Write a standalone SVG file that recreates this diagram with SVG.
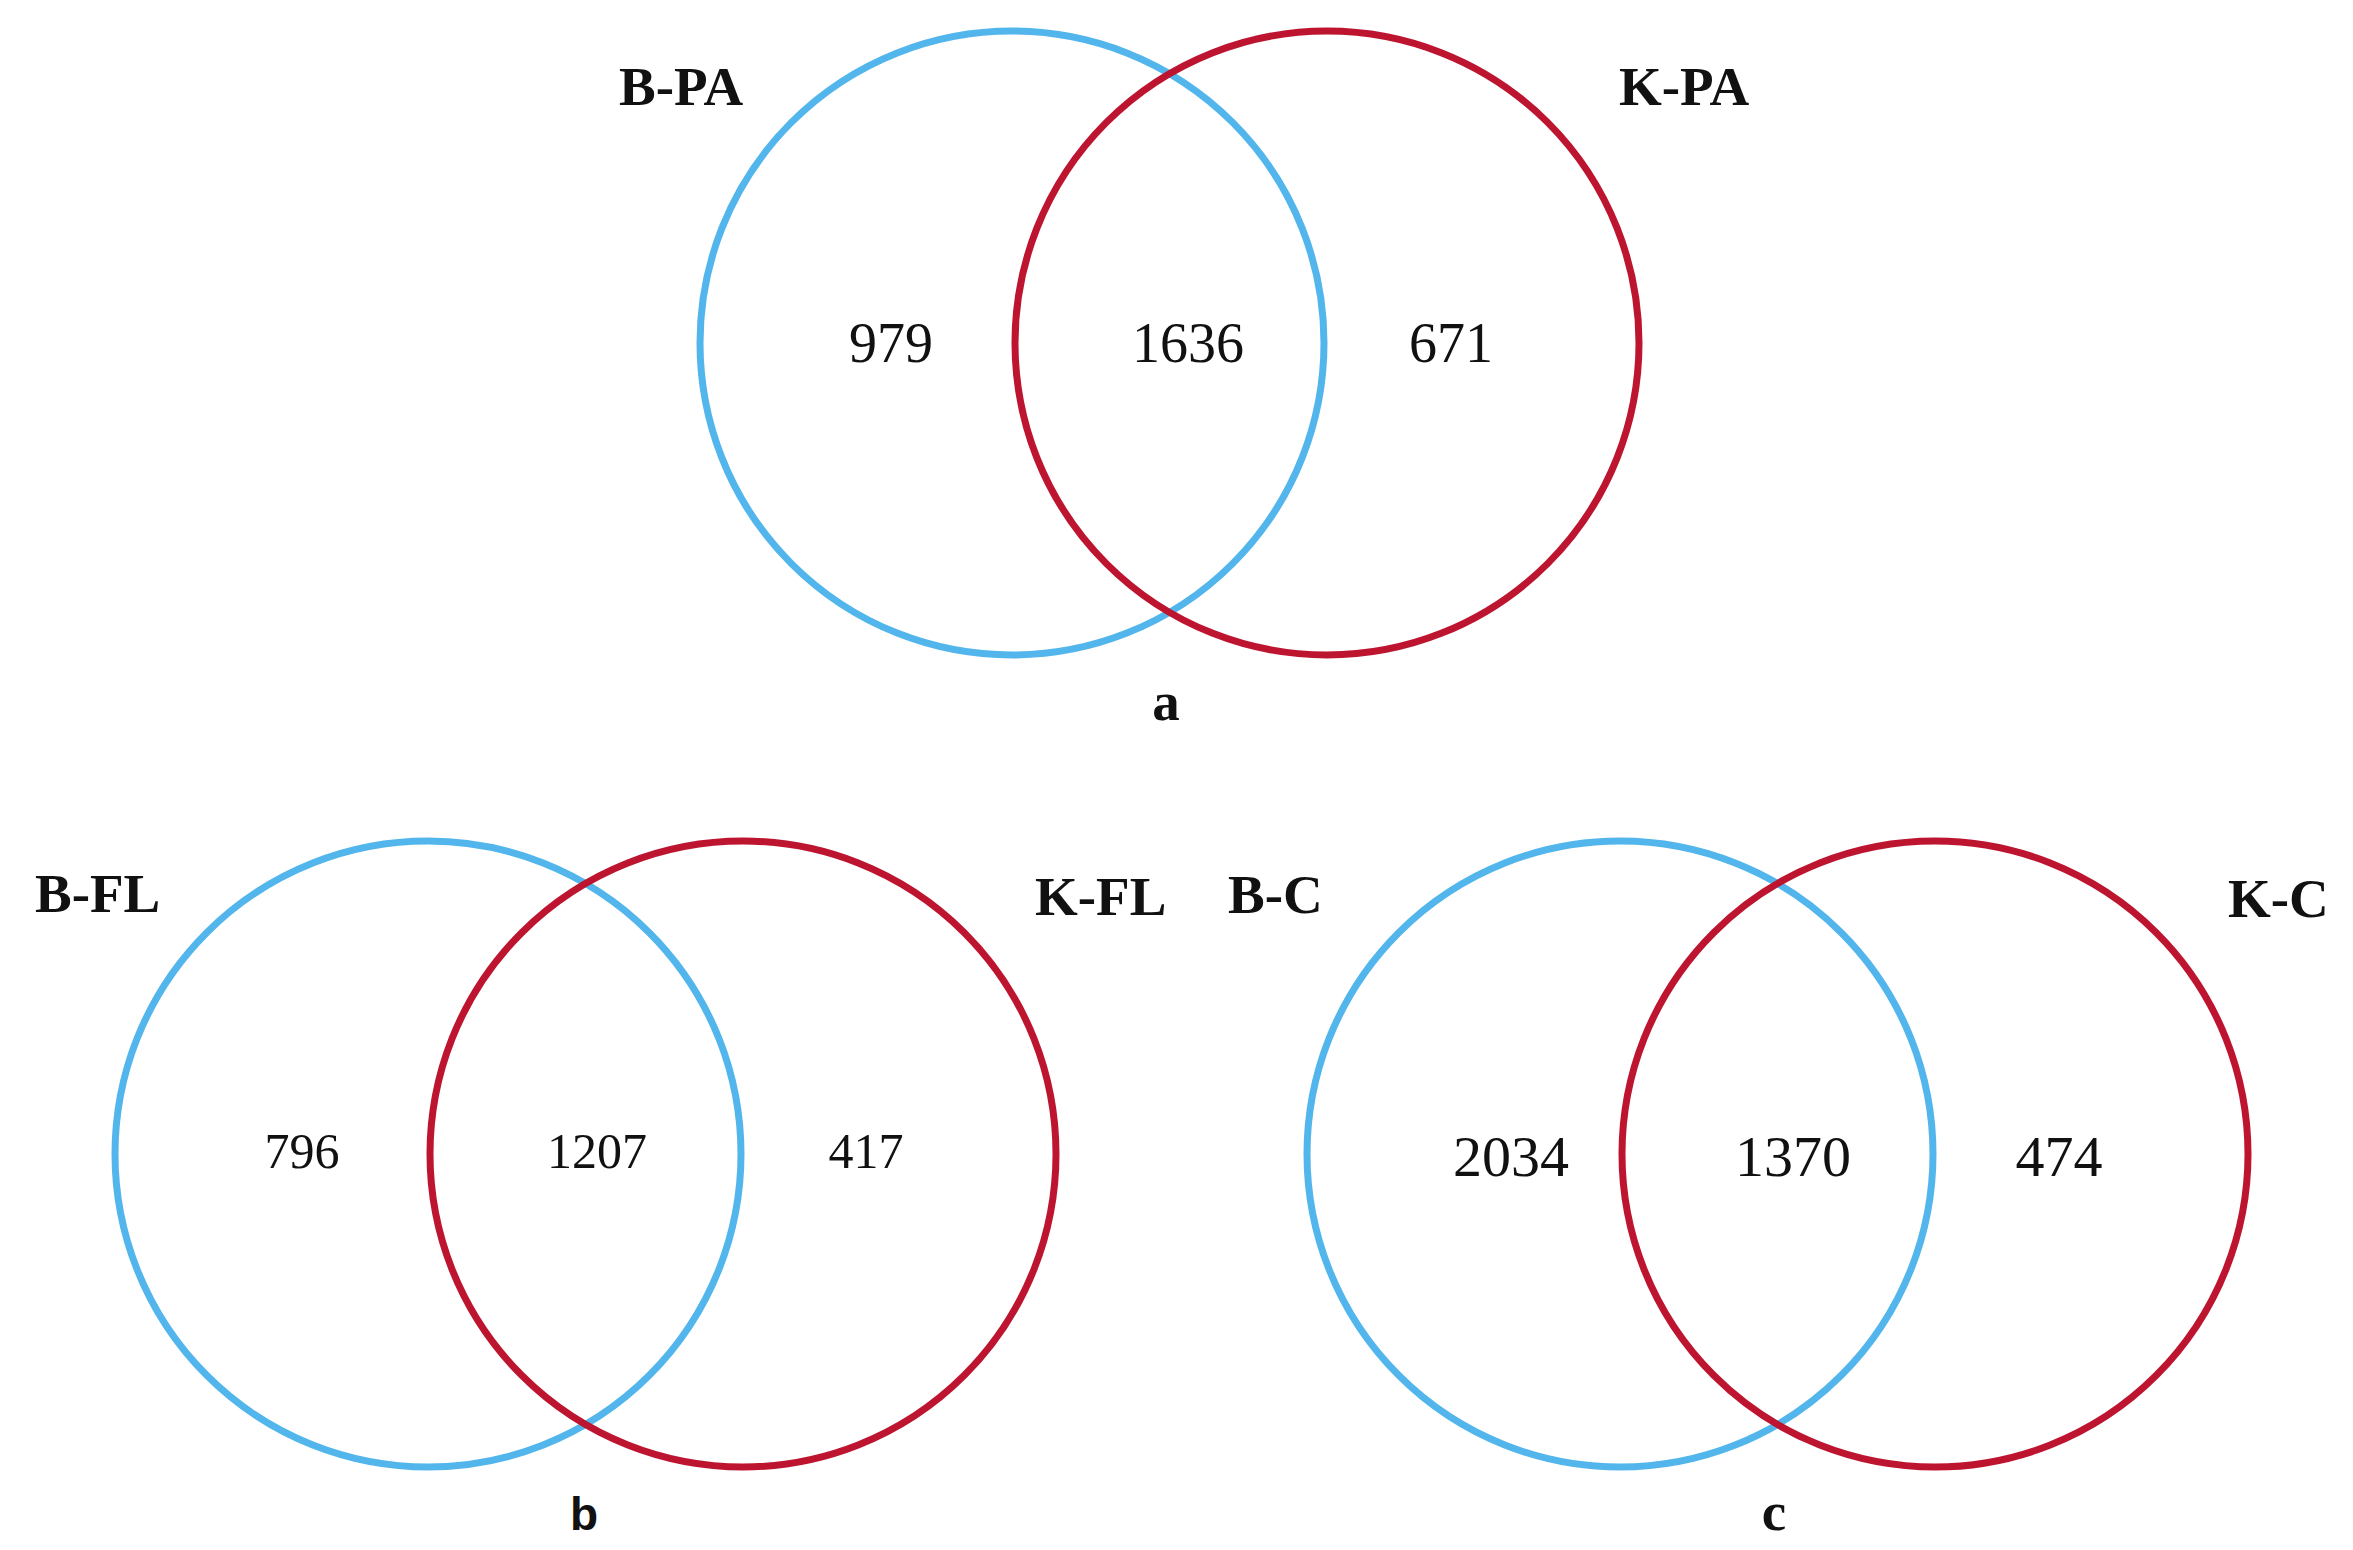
<svg xmlns="http://www.w3.org/2000/svg" width="2353" height="1550" viewBox="0 0 2353 1550">
<style>
.b{fill:none;stroke:#52b6ec;stroke-width:7}
.r{fill:none;stroke:#bd1530;stroke-width:7}
.lab{font-family:"Liberation Serif","Times New Roman",serif;font-weight:bold;font-size:55px;fill:#111}
.num{font-family:"Liberation Serif","Times New Roman",serif;font-size:56px;fill:#111;text-anchor:middle}
.sub{font-family:"Liberation Serif","Times New Roman",serif;font-weight:bold;font-size:55px;fill:#111;text-anchor:middle}
</style>
<rect width="2353" height="1550" fill="#fff"/>
<g id="panel-a">
  <circle id="B-PA" class="b" cx="1012" cy="343" r="312"/>
  <circle id="K-PA" class="r" cx="1327" cy="343" r="312"/>
  <text class="lab" x="619" y="105">B-PA</text>
  <text class="lab" x="1619" y="105">K-PA</text>
  <text class="num" x="891" y="362">979</text>
  <text class="num" x="1188" y="362">1636</text>
  <text class="num" x="1451" y="362">671</text>
  <text class="sub" x="1166" y="720">a</text>
</g>
<g id="panel-b">
  <circle id="B-FL" class="b" cx="428" cy="1154" r="313"/>
  <circle id="K-FL" class="r" cx="743" cy="1154" r="313"/>
  <text class="lab" x="35" y="912">B-FL</text>
  <text class="lab" x="1035" y="915">K-FL</text>
  <text class="num" x="302" y="1168" style="font-size:50px">796</text>
  <text class="num" x="597" y="1168" style="font-size:50px">1207</text>
  <text class="num" x="866" y="1168" style="font-size:50px">417</text>
  <text class="sub" x="584" y="1530" style="font-family:'Liberation Sans',Arial,sans-serif;font-size:46px">b</text>
</g>
<g id="panel-c">
  <circle id="B-C" class="b" cx="1620" cy="1154" r="313"/>
  <circle id="K-C" class="r" cx="1935" cy="1154" r="313"/>
  <text class="lab" x="1228" y="913">B-C</text>
  <text class="lab" x="2228" y="917">K-C</text>
  <text class="num" x="1511" y="1176" style="font-size:58px">2034</text>
  <text class="num" x="1793" y="1176" style="font-size:58px">1370</text>
  <text class="num" x="2059" y="1176" style="font-size:58px">474</text>
  <text class="sub" x="1774" y="1530">c</text>
</g>
<g id="connectors"></g>
</svg>
